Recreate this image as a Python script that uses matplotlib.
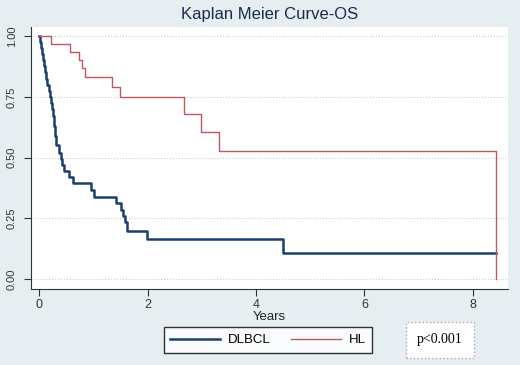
import numpy as np
import matplotlib.pyplot as plt
from matplotlib.lines import Line2D

# survival estimates (years, survival)
dlbcl_t = [0.00, 0.01, 0.03, 0.05, 0.07, 0.09, 0.11, 0.13, 0.15, 0.17, 0.20,
           0.22, 0.24, 0.26, 0.28, 0.295, 0.31, 0.37, 0.40, 0.42, 0.455,
           0.54, 0.62, 0.95, 1.01, 1.41, 1.50, 1.55, 1.58, 1.61, 1.98,
           4.50, 8.43]
dlbcl_s = [1.00, 0.975, 0.95, 0.925, 0.90, 0.875, 0.85, 0.825, 0.80, 0.775,
           0.75, 0.725, 0.70, 0.67, 0.63, 0.59, 0.55, 0.52, 0.495, 0.47,
           0.445, 0.42, 0.395, 0.365, 0.34, 0.315, 0.285, 0.26, 0.235,
           0.20, 0.165, 0.107, 0.107]

hl_t = [0.00, 0.21, 0.57, 0.73, 0.78, 0.84, 1.34, 1.49, 2.67, 2.98, 3.32, 8.43]
hl_s = [1.00, 0.967, 0.933, 0.90, 0.867, 0.833, 0.79, 0.75, 0.68, 0.604,
        0.529, 0.0]

groups = ['DLBCL', 'HL']
x_ticks = [0, 2, 4, 6, 8]
y_ticks = [0.0, 0.25, 0.5, 0.75, 1.0]

blue = '#1a3f6f'
red = '#c0575f'
bg = '#e7eef2'

plt.rcParams['font.family'] = ['Liberation Sans', 'DejaVu Sans']

fig = plt.figure(figsize=(5.2, 3.65), dpi=100, facecolor=bg)
ax = fig.add_axes([31 / 520, 1 - 289 / 365, 477 / 520, 262 / 365])
ax.set_facecolor('white')

ax.step(dlbcl_t, dlbcl_s, where='post', color=blue, lw=1.8)
ax.step(hl_t, hl_s, where='post', color=red, lw=1.0)

ax.set_xlim(-0.153, 8.65)
ax.set_ylim(-0.04, 1.037)
ax.set_xticks(x_ticks)
ax.set_yticks(y_ticks)
ax.set_yticklabels(['%.2f' % v for v in y_ticks], rotation=90, va='center')
ax.tick_params(axis='y', labelsize=8, length=5, pad=5, colors='#333333')
ax.tick_params(axis='x', labelsize=9, length=5, pad=2, colors='#333333')
ax.grid(axis='y', linestyle=':', color='#cccccc', lw=0.8)

for side in ['top', 'right']:
    ax.spines[side].set_visible(False)
for side in ['left', 'bottom']:
    ax.spines[side].set_color('#333333')

ax.set_xlabel('Years', fontsize=9.5, labelpad=0, color='#222222')
ax.set_title('Kaplan Meier Curve-OS', fontsize=12, color='#1a2a4a', pad=6)

handles = [Line2D([], [], color=blue, lw=1.8), Line2D([], [], color=red, lw=1.0)]
leg = fig.legend(handles, groups, ncol=2, loc='center',
                 bbox_to_anchor=(268 / 520, 1 - 340 / 365), frameon=True,
                 fancybox=False, edgecolor='black', handlelength=3.8,
                 handletextpad=0.6, columnspacing=1.5, fontsize=9.5,
                 borderpad=0.5)
leg.get_frame().set_linewidth(1.0)

fig.text(440 / 520, 1 - 340 / 365, 'p<0.001', ha='center', va='center',
         family='Liberation Serif', fontsize=10,
         bbox=dict(boxstyle='square,pad=0.8', fc='white', ec='#aaaaaa',
                   ls=':'))

fig.savefig('out.png', dpi=100, facecolor=bg)
